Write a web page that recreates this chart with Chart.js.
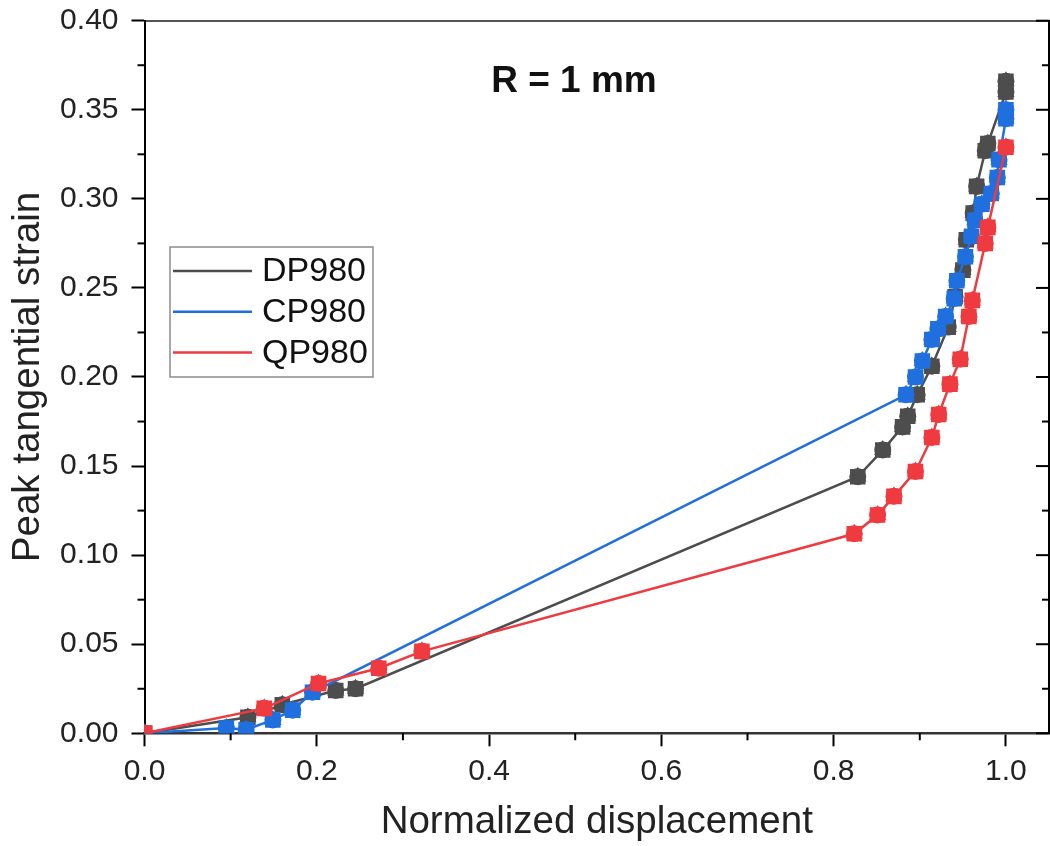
<!DOCTYPE html>
<html>
<head>
<meta charset="utf-8">
<title>Peak tangential strain</title>
<script src="https://cdn.jsdelivr.net/npm/chart.js@4.4.1/dist/chart.umd.min.js"></script>
<style>
  html, body { margin: 0; padding: 0; overflow: hidden; background: #fff; }
  #wrap { width: 1060px; height: 846px; }
</style>
</head>
<body>
<div id="wrap"><canvas id="chart" width="1060" height="846"></canvas></div>
<script>
  "use strict";

  // DP980 (dark grey)
  const dpX = [0, 0.12, 0.16, 0.222, 0.245, 0.828, 0.857, 0.880, 0.886, 0.897, 0.914, 0.933, 0.941, 0.950, 0.954, 0.962, 0.966, 0.976, 0.979, 1.0, 1.0];
  const dpY = [0, 0.009, 0.016, 0.024, 0.025, 0.144, 0.159, 0.172, 0.178, 0.190, 0.206, 0.228, 0.245, 0.260, 0.277, 0.292, 0.307, 0.327, 0.331, 0.360, 0.366];

  // CP980 (blue)
  const cpX = [0, 0.095, 0.118, 0.149, 0.172, 0.195, 0.884, 0.895, 0.903, 0.914, 0.921, 0.930, 0.940, 0.943, 0.953, 0.960, 0.964, 0.972, 0.983, 0.990, 0.992, 1.0, 1.0];
  const cpY = [0, 0.003, 0.002, 0.0075, 0.013, 0.023, 0.190, 0.200, 0.209, 0.221, 0.227, 0.234, 0.244, 0.254, 0.2675, 0.279, 0.288, 0.297, 0.303, 0.312, 0.322, 0.345, 0.350];

  // QP980 (red)
  const qpX = [0, 0.139, 0.202, 0.272, 0.322, 0.824, 0.851, 0.870, 0.895, 0.914, 0.922, 0.935, 0.947, 0.957, 0.961, 0.976, 0.979, 1.0];
  const qpY = [0, 0.014, 0.028, 0.0365, 0.046, 0.112, 0.1225, 0.133, 0.147, 0.166, 0.179, 0.196, 0.210, 0.234, 0.243, 0.275, 0.284, 0.329];

  // axis ticks
  const xTicks = [0, 0.2, 0.4, 0.6, 0.8, 1.0];
  const xMinor = [0.1, 0.3, 0.5, 0.7, 0.9];
  const yTicks = [0, 0.05, 0.10, 0.15, 0.20, 0.25, 0.30, 0.35, 0.40];
  const yMinor = [0.025, 0.075, 0.125, 0.175, 0.225, 0.275, 0.325, 0.375];

  const FONT = "'Liberation Sans', Arial, sans-serif";

  // build the three datasets of one material: line + square, circle, triangle markers
  function material(label, xs, ys, color, order) {
    const data = xs.map((x, i) => ({ x: x, y: ys[i] }));
    const base = {
      data: data,
      borderColor: color,
      backgroundColor: color,
      pointBackgroundColor: color,
      pointBorderColor: color,
      pointBorderWidth: 0,
      pointHoverRadius: 0,
      order: order
    };
    return [
      Object.assign({}, base, { label: label, showLine: true, borderWidth: 2.5, pointStyle: "rect", pointRadius: 11 }),
      Object.assign({}, base, { label: label + " c", showLine: false, pointStyle: "circle", pointRadius: 8.5 }),
      Object.assign({}, base, { label: label + " t", showLine: false, pointStyle: "triangle", pointRadius: 10 })
    ];
  }

  const datasets = [].concat(
    material("DP980", dpX, dpY, "#4d4d4d", 2),
    material("CP980", cpX, cpY, "#1f6fde", 1),
    material("QP980", qpX, qpY, "#ef3a3f", 0)
  );

  // minor ticks, right axis ticks, inner label and legend box
  const decor = {
    id: "decor",
    afterDraw(chart) {
      const { ctx, chartArea: a, scales } = chart;
      const x = scales.x, y = scales.y;
      const seg = (x1, y1, x2, y2) => { ctx.beginPath(); ctx.moveTo(x1, y1); ctx.lineTo(x2, y2); ctx.stroke(); };
      ctx.save();
      ctx.strokeStyle = "#000";
      ctx.lineWidth = 2;
      xMinor.forEach(v => { const px = x.getPixelForValue(v); seg(px, a.bottom, px, a.bottom + 7); });
      yMinor.forEach(v => { const py = y.getPixelForValue(v); seg(a.left - 7, py, a.left, py); });
      yTicks.forEach(v => { const py = y.getPixelForValue(v); seg(a.right - 13, py, a.right, py); });
      yMinor.forEach(v => { const py = y.getPixelForValue(v); seg(a.right - 7, py, a.right, py); });

      ctx.fillStyle = "#111";
      ctx.font = "bold 37px " + FONT;
      ctx.textAlign = "center";
      ctx.textBaseline = "middle";
      ctx.fillText("R = 1 mm", 574, 82);

      // legend
      ctx.fillStyle = "#fff";
      ctx.fillRect(170, 247, 203, 130);
      ctx.strokeStyle = "#8c8c8c";
      ctx.lineWidth = 1.5;
      ctx.strokeRect(170, 247, 203, 130);
      ctx.font = "34px " + FONT;
      ctx.textAlign = "left";
      const mains = chart.data.datasets.filter(d => d.showLine);
      mains.forEach((d, i) => {
        const ly = 271 + i * 40.7;
        ctx.strokeStyle = d.borderColor;
        ctx.lineWidth = 2.5;
        seg(173, ly, 252, ly);
        ctx.fillStyle = "#111";
        ctx.fillText(d.label, 262, ly + 1);
      });
      ctx.restore();
    }
  };

  const tickFont = { family: FONT, size: 30 };
  const titleFont = { family: FONT, size: 38.5 };

  new Chart(document.getElementById("chart"), {
    type: "scatter",
    data: { datasets: datasets },
    options: {
      responsive: false,
      animation: false,
      devicePixelRatio: 1,
      layout: { padding: { top: 20.7, left: 0, right: 0, bottom: 0 } },
      plugins: {
        legend: { display: false },
        tooltip: { enabled: false }
      },
      scales: {
        x: {
          type: "linear",
          position: "bottom",
          min: 0,
          max: 1.05,
          afterBuildTicks: s => { s.ticks = xTicks.map(v => ({ value: v })); },
          afterFit: s => { s.height = 846 - 733.3; s.paddingLeft = 0; s.paddingRight = 0; },
          ticks: { font: tickFont, color: "#222", padding: 7, maxRotation: 0, callback: v => v.toFixed(1) },
          grid: { drawOnChartArea: false, drawTicks: true, tickLength: 13, tickWidth: 2, tickColor: "#000" },
          border: { display: true, color: "#333", width: 2.5 },
          title: { display: true, text: "Normalized displacement", font: titleFont, color: "#222", padding: { top: 0, bottom: 1 } }
        },
        x2: {
          type: "linear",
          position: "top",
          min: 0,
          max: 1.05,
          afterFit: s => { s.height = 0; },
          ticks: { display: false },
          grid: { drawOnChartArea: false, drawTicks: false },
          border: { display: true, color: "#555", width: 2 }
        },
        y: {
          type: "linear",
          position: "left",
          min: 0,
          max: 0.40,
          afterBuildTicks: s => { s.ticks = yTicks.map(v => ({ value: v })); },
          afterFit: s => { s.width = 144.5; s.paddingTop = 0; s.paddingBottom = 0; },
          ticks: { font: tickFont, color: "#222", padding: 13, callback: v => v.toFixed(2) },
          grid: { drawOnChartArea: false, drawTicks: true, tickLength: 13, tickWidth: 2, tickColor: "#000" },
          border: { display: true, color: "#000", width: 2 },
          title: { display: true, text: "Peak tangential strain", font: titleFont, color: "#222", padding: { top: 5, bottom: 0 } }
        },
        y2: {
          type: "linear",
          position: "right",
          min: 0,
          max: 0.40,
          afterFit: s => { s.width = 6; s.paddingTop = 0; s.paddingBottom = 0; },
          ticks: { display: false },
          grid: { drawOnChartArea: false, drawTicks: false },
          border: { display: true, color: "#000", width: 2 }
        }
      }
    },
    plugins: [decor]
  });
</script>
</body>
</html>
